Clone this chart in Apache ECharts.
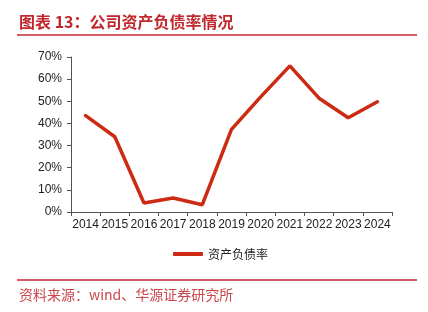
<!DOCTYPE html>
<html><head><meta charset="utf-8">
<script src="https://cdn.jsdelivr.net/npm/echarts@6/dist/echarts.min.js"></script>
<style>html,body{margin:0;padding:0;background:#fff}#c{width:428px;height:312px}</style>
</head><body><div id="c"></div>
<script>
var categories = ['2014','2015','2016','2017','2018','2019','2020','2021','2022','2023','2024'];
var debtRatio = [43.5, 34.0, 4.1, 6.3, 3.3, 37.3, 52.0, 66.0, 51.4, 42.6, 49.8];
var yTicks = [0, 10, 20, 30, 40, 50, 60, 70];
var seriesName = '资产负债率';
var titleText = '图表 13：公司资产负债率情况';
var sourceText = '资料来源：wind、华源证券研究所';

var chart = echarts.init(document.getElementById('c'), null, {renderer: 'canvas'});
var red = '#C0282E';
var lineRed = '#CC2A12';
chart.setOption({
  animation: false,
  textStyle: {fontFamily: 'Liberation Sans, Arial, sans-serif'},
  grid: {left: 71, right: 36, top: 57, bottom: 100, containLabel: false},
  legend: {
    data: [{name: seriesName, icon: 'roundRect'}], left: 168, top: 243, itemWidth: 30, itemHeight: 4, itemGap: 4,
    itemStyle: {color: lineRed, borderWidth: 0},
    lineStyle: {width: 0},
    textStyle: {fontSize: 12, color: '#222', fontFamily: 'Noto Sans CJK SC'}
  },
  xAxis: {
    type: 'category', data: categories, boundaryGap: true,
    axisLine: {lineStyle: {color: '#555', width: 1}},
    axisTick: {show: true, length: 4, lineStyle: {color: '#555'}},
    axisLabel: {fontSize: 12, color: '#222', margin: 7, interval: 0}
  },
  yAxis: {
    type: 'value', min: yTicks[0], max: yTicks[yTicks.length-1], interval: 10,
    axisLine: {show: true, lineStyle: {color: '#555', width: 1}},
    axisTick: {show: true, length: 4, lineStyle: {color: '#555'}},
    splitLine: {show: false},
    axisLabel: {fontSize: 12, color: '#222', margin: 9, formatter: '{value}%'}
  },
  series: [{
    name: seriesName, type: 'line', data: debtRatio, symbol: 'none',
    lineStyle: {color: lineRed, width: 3.5, cap: 'round'},
    itemStyle: {color: lineRed}
  }],
  graphic: [
    {type: 'text', left: 19, top: 14, style: {text: titleText, fontSize: 16, fontWeight: 'bold', fill: red, fontFamily: 'Noto Sans CJK SC'}},
    {type: 'line', shape: {x1: 17, y1: 35, x2: 417, y2: 35}, style: {stroke: red, lineWidth: 1.5}},
    {type: 'line', shape: {x1: 17, y1: 280, x2: 417, y2: 280}, style: {stroke: red, lineWidth: 1.5}},
    {type: 'text', left: 19, top: 288, style: {text: sourceText, fontSize: 14, fill: '#C8474C', fontFamily: 'Noto Sans CJK SC'}}
  ]
});
</script></body></html>
